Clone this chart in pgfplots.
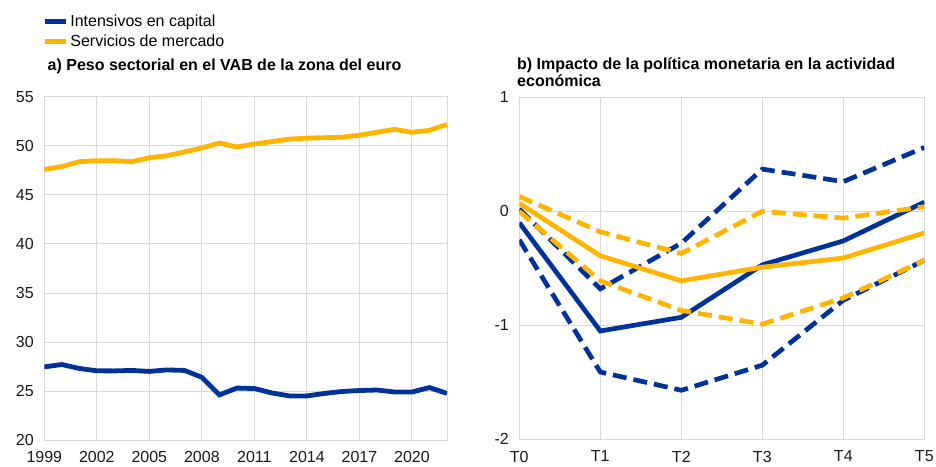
\documentclass[border=0pt]{standalone}
\usepackage{fontspec}
\setmainfont{Liberation Sans}
\usepackage{pgfplots}
\pgfplotsset{compat=1.18}
\definecolor{ecbblue}{RGB}{0,50,153}
\definecolor{ecbyellow}{RGB}{255,180,0}
\definecolor{gridgray}{RGB}{217,217,217}
\pgfplotsset{
  mystyle/.style={
    scale only axis,
    axis line style={draw=gridgray, line width=1pt},
    grid=major,
    grid style={draw=gridgray, line width=1pt},
    major tick length=0pt,
    tick label style={font=\fontsize{16}{18}\selectfont, text=black!90},
    /pgf/number format/assume math mode=true,
    /pgf/number format/1000 sep={},
    yticklabel style={xshift=-7pt},
    xticklabel style={yshift=-8pt},
  }
}
\begin{document}
\begin{tikzpicture}
% Left panel
\begin{axis}[mystyle,
  at={(44.3pt,26pt)}, anchor=south west,
  width=402.7pt, height=343pt,
  xmin=1999, xmax=2022, ymin=20, ymax=55,
  xtick={1999,2002,2005,2008,2011,2014,2017,2020,2022},
  xticklabels={1999,2002,2005,2008,2011,2014,2017,2020,},
  ytick={20,25,...,55},
  legend style={at={(axis description cs:-0.005,1.245)}, anchor=north west,
    draw=none, fill=none, inner sep=0pt, font=\fontsize{16}{18}\selectfont,
    row sep=3pt},
  legend cell align=left,
  legend image code/.code={\draw[#1, line width=5pt] (0pt,0pt) -- (15pt,0pt); \path (0pt,0pt) -- (21pt,0pt);},
]
\addplot[ecbblue, line width=4.8pt] coordinates {
(1999,27.46) (2000,27.7) (2001,27.3) (2002,27.06) (2003,27.05) (2004,27.1)
(2005,27.0) (2006,27.15) (2007,27.1) (2008,26.4) (2009,24.6) (2010,25.3)
(2011,25.25) (2012,24.8) (2013,24.5) (2014,24.5) (2015,24.75) (2016,24.95)
(2017,25.05) (2018,25.1) (2019,24.9) (2020,24.9) (2021,25.35) (2022,24.75)};
\addlegendentry{Intensivos en capital}
\addplot[ecbyellow, line width=4.8pt] coordinates {
(1999,47.6) (2000,47.9) (2001,48.4) (2002,48.5) (2003,48.5) (2004,48.4)
(2005,48.8) (2006,49.0) (2007,49.4) (2008,49.8) (2009,50.3) (2010,49.9)
(2011,50.2) (2012,50.45) (2013,50.7) (2014,50.8) (2015,50.85) (2016,50.9)
(2017,51.1) (2018,51.4) (2019,51.7) (2020,51.4) (2021,51.6) (2022,52.2)};
\addlegendentry{Servicios de mercado}
\end{axis}
% Right panel
\begin{axis}[mystyle,
  at={(519.3pt,26.7pt)}, anchor=south west,
  width=405pt, height=342pt,
  xmin=0, xmax=5, ymin=-2, ymax=1,
  xtick={0,1,2,3,4,5},
  xticklabels={T0,T1,T2,T3,T4,T5},
  ytick={-2,-1,0,1},
  yticklabels={-2,-1,0,1},
]
\addplot[ecbblue, line width=4.7pt, dash pattern=on 14pt off 7pt] coordinates {
(0,0.02) (1,-0.68) (2,-0.28) (3,0.37) (4,0.26) (5,0.56)};
\addplot[ecbblue, line width=4.7pt, dash pattern=on 14pt off 7pt] coordinates {
(0,-0.25) (1,-1.41) (2,-1.57) (3,-1.35) (4,-0.78) (5,-0.43)};
\addplot[ecbblue, line width=4.7pt] coordinates {
(0,-0.1) (1,-1.05) (2,-0.93) (3,-0.47) (4,-0.26) (5,0.08)};
\addplot[ecbyellow, line width=4.7pt, dash pattern=on 14pt off 7pt] coordinates {
(0,0.13) (1,-0.18) (2,-0.37) (3,0.0) (4,-0.06) (5,0.04)};
\addplot[ecbyellow, line width=4.7pt, dash pattern=on 14pt off 7pt] coordinates {
(0,0.0) (1,-0.61) (2,-0.87) (3,-0.99) (4,-0.76) (5,-0.43)};
\addplot[ecbyellow, line width=4.7pt] coordinates {
(0,0.07) (1,-0.39) (2,-0.61) (3,-0.49) (4,-0.41) (5,-0.19)};
\end{axis}
\node[anchor=base west, font=\bfseries\fontsize{16}{18}\selectfont, inner sep=0pt]
  at (47.5pt,395pt) {a) Peso sectorial en el VAB de la zona del euro};
\node[anchor=base west, font=\bfseries\fontsize{16}{17}\selectfont, inner sep=0pt]
  at (517pt,396pt) {b) Impacto de la política monetaria en la actividad};
\node[anchor=base west, font=\bfseries\fontsize{16}{17}\selectfont, inner sep=0pt]
  at (517pt,379pt) {económica};
\pgfresetboundingbox
\useasboundingbox (0pt,0pt) rectangle (936pt,466pt);
\end{tikzpicture}
\end{document}
